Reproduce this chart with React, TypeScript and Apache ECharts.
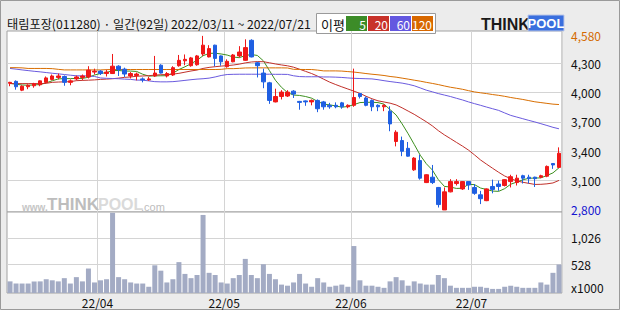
import React, { useEffect, useRef } from 'react';
import * as echarts from 'echarts';

// ---- data ----
const monthDays: [string, number[]][] = [
  ['22/03', [11, 14, 15, 16, 17, 18, 21, 22, 23, 24, 25, 28, 29, 30, 31]],
  ['22/04', [1, 4, 5, 6, 7, 8, 11, 12, 13, 14, 15, 18, 19, 20, 21, 22, 25, 26, 27, 28, 29]],
  ['22/05', [2, 3, 4, 6, 9, 10, 11, 12, 13, 16, 17, 18, 19, 20, 23, 24, 25, 26, 27, 30, 31]],
  ['22/06', [2, 3, 7, 8, 9, 10, 13, 14, 15, 16, 17, 20, 21, 22, 23, 24, 27, 28, 29, 30]],
  ['22/07', [1, 4, 5, 6, 7, 8, 11, 12, 13, 14, 15, 18, 19, 20, 21]],
];
const dates: string[] = [];
monthDays.forEach(([m, days]) => days.forEach((d) => dates.push(m + '/' + String(d).padStart(2, '0'))));

const opens = [
  4095, 4115, 4025, 4060, 4070, 4080, 4105, 4135, 4155, 4165,
  4105, 4140, 4155, 4160, 4210, 4220, 4195, 4195, 4270, 4240,
  4170, 4175, 4140, 4130, 4170, 4280, 4170, 4180, 4275, 4325,
  4275, 4285, 4395, 4365, 4485, 4375, 4265, 4315, 4375, 4330,
  4535, 4305, 4200, 4100, 3905, 3960, 3965, 4015, 3910, 3915,
  3905, 3920, 3905, 3870, 3870, 3895, 3855, 3870, 3990, 3945,
  3920, 3870, 3855, 3810, 3500, 3510, 3430, 3210, 3305, 3080,
  3135, 3030, 2800, 2985, 3070, 3015, 3090, 3030, 2955, 2895,
  3040, 3065, 3050, 3090, 3080, 3150, 3135, 3135, 3135, 3145,
  3275, 3235,
];
const highs = [
  4110, 4125, 4075, 4085, 4100, 4125, 4165, 4185, 4195, 4175,
  4135, 4175, 4185, 4270, 4245, 4230, 4235, 4395, 4280, 4255,
  4210, 4205, 4155, 4160, 4375, 4290, 4210, 4270, 4385, 4390,
  4365, 4385, 4580, 4485, 4490, 4380, 4340, 4395, 4475, 4545,
  4545, 4315, 4245, 4110, 4040, 4025, 4025, 4025, 3915, 3920,
  3930, 3930, 3915, 3895, 3900, 3905, 3880, 4245, 3995, 3960,
  3930, 3880, 3880, 3860, 3615, 3550, 3495, 3340, 3365, 3165,
  3260, 3035, 3030, 3115, 3115, 3095, 3090, 3065, 2995, 3020,
  3110, 3100, 3115, 3160, 3160, 3160, 3160, 3140, 3160, 3255,
  3280, 3440,
];
const lows = [
  4065, 4030, 4015, 4035, 4050, 4065, 4095, 4125, 4135, 4070,
  4075, 4125, 4125, 4145, 4185, 4180, 4165, 4190, 4170, 4160,
  4145, 4125, 4105, 4120, 4160, 4195, 4155, 4170, 4265, 4280,
  4265, 4275, 4375, 4360, 4270, 4275, 4255, 4310, 4360, 4325,
  4360, 4155, 4045, 3885, 3900, 3930, 3955, 3945, 3825, 3865,
  3870, 3800, 3825, 3835, 3840, 3835, 3840, 3855, 3940, 3860,
  3810, 3810, 3810, 3605, 3450, 3350, 3345, 3200, 3110, 3075,
  3065, 2825, 2800, 2980, 3050, 3005, 3005, 2955, 2860, 2890,
  2970, 2995, 3040, 3030, 3050, 3070, 3070, 3035, 3125, 3135,
  3220, 3230,
];
const closes = [
  4105, 4060, 4065, 4075, 4090, 4120, 4150, 4170, 4170, 4105,
  4120, 4160, 4170, 4230, 4220, 4195, 4210, 4270, 4235, 4190,
  4195, 4190, 4130, 4140, 4200, 4200, 4195, 4255, 4330, 4340,
  4355, 4375, 4485, 4450, 4350, 4315, 4320, 4385, 4415, 4460,
  4365, 4275, 4110, 3920, 3960, 4005, 4005, 3985, 3900, 3905,
  3920, 3835, 3855, 3855, 3855, 3855, 3870, 3950, 3960, 3870,
  3855, 3855, 3870, 3680, 3595, 3400, 3350, 3330, 3125, 3160,
  3080, 2855, 2985, 3090, 3090, 3090, 3055, 2970, 2915, 3015,
  3010, 3040, 3110, 3140, 3125, 3125, 3120, 3120, 3150, 3245,
  3260, 3380,
];
const ma5 = [
  4095, 4085, 4078, 4075, 4079, 4082, 4100, 4121, 4140, 4143,
  4143, 4145, 4145, 4157, 4180, 4195, 4205, 4225, 4226, 4220,
  4220, 4216, 4188, 4169, 4171, 4172, 4173, 4198, 4236, 4264,
  4295, 4331, 4377, 4401, 4403, 4395, 4384, 4364, 4357, 4379,
  4389, 4380, 4325, 4226, 4126, 4054, 4000, 3975, 3971, 3960,
  3943, 3909, 3883, 3874, 3864, 3851, 3858, 3877, 3898, 3901,
  3901, 3898, 3882, 3826, 3771, 3680, 3579, 3471, 3360, 3273,
  3209, 3110, 3041, 3034, 3020, 3022, 3062, 3059, 3024, 3009,
  2993, 2990, 3018, 3063, 3085, 3108, 3124, 3126, 3128, 3152,
  3179, 3231,
];
const ma20 = [
  4092, 4092, 4092, 4092, 4092, 4092, 4095, 4105, 4108, 4110,
  4112, 4122, 4125, 4127, 4130, 4135, 4138, 4142, 4148, 4156,
  4160, 4167, 4170, 4173, 4179, 4183, 4185, 4189, 4197, 4209,
  4221, 4231, 4247, 4258, 4265, 4271, 4276, 4282, 4291, 4304,
  4313, 4317, 4316, 4305, 4293, 4283, 4274, 4260, 4239, 4217,
  4195, 4168, 4137, 4107, 4082, 4059, 4037, 4015, 3992, 3963,
  3937, 3916, 3904, 3892, 3874, 3844, 3811, 3778, 3740, 3702,
  3660, 3611, 3568, 3530, 3491, 3453, 3412, 3363, 3311, 3268,
  3226, 3185, 3147, 3120, 3097, 3083, 3072, 3061, 3062, 3067,
  3076, 3102,
];
const ma60 = [
  4247, 4240, 4232, 4225, 4218, 4212, 4205, 4198, 4192, 4185,
  4178, 4172, 4171, 4170, 4165, 4150, 4146, 4144, 4142, 4138,
  4135, 4128, 4127, 4120, 4112, 4110, 4110, 4112, 4118, 4125,
  4132, 4138, 4142, 4148, 4160, 4175, 4185, 4187, 4188, 4188,
  4188, 4188, 4188, 4188, 4187, 4187, 4186, 4172, 4164, 4162,
  4162, 4162, 4160, 4160, 4158, 4155, 4150, 4146, 4144, 4142,
  4140, 4132, 4122, 4113, 4105, 4097, 4085, 4070, 4048, 4025,
  4008, 3990, 3975, 3960, 3942, 3925, 3905, 3887, 3870, 3852,
  3835, 3818, 3792, 3767, 3750, 3733, 3716, 3700, 3682, 3664,
  3645, 3630,
];
const ma120 = [
  4255, 4255, 4253, 4247, 4247, 4247, 4247, 4245, 4238, 4232,
  4232, 4232, 4232, 4232, 4232, 4232, 4235, 4236, 4236, 4236,
  4236, 4236, 4236, 4236, 4236, 4236, 4236, 4236, 4236, 4236,
  4236, 4236, 4236, 4236, 4236, 4238, 4245, 4245, 4248, 4252,
  4253, 4253, 4253, 4253, 4253, 4253, 4252, 4238, 4237, 4236,
  4236, 4230, 4222, 4222, 4222, 4220, 4215, 4210, 4203, 4195,
  4188, 4182, 4175, 4165, 4158, 4148, 4138, 4127, 4117, 4105,
  4094, 4082, 4068, 4055, 4045, 4034, 4020, 4007, 3998, 3990,
  3980, 3972, 3962, 3950, 3940, 3930, 3918, 3906, 3898, 3890,
  3882, 3878,
];
const volumes = [
  216, 176, 176, 176, 216, 216, 256, 236, 216, 276,
  176, 295, 216, 455, 196, 236, 256, 1491, 295, 256,
  196, 176, 176, 116, 515, 415, 196, 256, 574, 355,
  276, 335, 1451, 375, 335, 196, 176, 276, 335, 634,
  335, 276, 535, 355, 256, 156, 136, 196, 355, 176,
  116, 276, 196, 116, 136, 156, 116, 873, 236, 136,
  136, 116, 96, 216, 295, 236, 136, 216, 176, 156,
  156, 335, 276, 136, 96, 96, 96, 116, 116, 96,
  76, 76, 116, 136, 116, 96, 96, 96, 196, 156,
  375, 530,
];
const priceTicks = [3100, 3400, 3700, 4000, 4300];
const volumeTicks = [528, 1026];
const maPeriods = [5, 20, 60, 120];

const UP = '#f01818';
const DOWN = '#1f5fe2';
const MA_COLORS = ['#3d8f1f', '#c0302a', '#6a5ade', '#d86e00'];
const LEGEND_COLORS = ['#3c8c28', '#c8322a', '#6458e0', '#d86800'];
const FONT = '"Noto Sans CJK KR", "Noto Sans", sans-serif';
const GRID_LINE = '#d4d4d4';

export default function App() {
  const ref = useRef<HTMLDivElement>(null);
  useEffect(() => {
    if (!ref.current) return;
    document.body.style.margin = '0';
    const chart = echarts.init(ref.current, undefined, { renderer: 'svg' });
    const priceHigh = Math.max(...highs);
    const priceLow = Math.min(...lows);
    const firstOfMonth = new Set<number>();
    dates.forEach((d, i) => {
      if (i > 0 && d.slice(0, 5) !== dates[i - 1].slice(0, 5)) firstOfMonth.add(i);
    });
    const splitX = (idx: number) => firstOfMonth.has(idx);
    const plotLeft = 7;
    const plotRight = 58;
    const priceTop = 31;
    const priceBottom = 212;
    const volBottom = 293;

    const maSeries = [ma5, ma20, ma60, ma120].map((arr, k) => ({
      type: 'line',
      name: 'MA' + maPeriods[k],
      xAxisIndex: 0,
      yAxisIndex: 0,
      data: arr,
      symbol: 'none',
      silent: true,
      lineStyle: { color: MA_COLORS[k], width: 1 },
      z: 3,
    }));

    const legendX = [346, 368, 390, 412];
    const legendGraphics: any[] = [
      {
        type: 'rect',
        shape: { x: 316.5, y: 13.5, width: 119, height: 20 },
        style: { fill: '#fff', stroke: '#9a9a9a', lineWidth: 1 },
      },
      {
        type: 'text',
        x: 321,
        y: 24,
        style: { text: '이평', font: '13px ' + FONT, fill: '#111', verticalAlign: 'middle' },
      },
    ];
    maPeriods.forEach((p, k) => {
      legendGraphics.push({
        type: 'rect',
        shape: { x: legendX[k], y: 16, width: 21, height: 15 },
        style: { fill: LEGEND_COLORS[k] },
      });
      legendGraphics.push({
        type: 'text',
        x: legendX[k] + 20,
        y: 24,
        style: {
          text: String(p),
          font: '12px ' + FONT,
          fill: '#fff',
          align: 'right',
          verticalAlign: 'middle',
        },
      });
    });

    const option: any = {
      animation: false,
      backgroundColor: '#ececec',
      grid: [
        {
          left: plotLeft,
          right: plotRight,
          top: priceTop,
          height: priceBottom - priceTop,
          show: true,
          backgroundColor: '#fff',
          borderColor: '#a2a2a2',
          borderWidth: 1,
        },
        {
          left: plotLeft,
          right: plotRight,
          top: priceBottom,
          height: volBottom - priceBottom,
          show: true,
          backgroundColor: '#fff',
          borderColor: '#a2a2a2',
          borderWidth: 1,
        },
      ],
      xAxis: [
        {
          type: 'category',
          gridIndex: 0,
          data: dates,
          boundaryGap: true,
          axisLine: { show: false },
          axisTick: { show: false },
          axisLabel: { show: false },
          splitLine: { show: true, interval: splitX, lineStyle: { color: GRID_LINE, width: 1 } },
        },
        {
          type: 'category',
          gridIndex: 1,
          data: dates,
          boundaryGap: true,
          axisLine: { show: false },
          axisTick: { show: false },
          axisLabel: {
            show: true,
            interval: splitX,
            formatter: (v: string) => v.slice(0, 5),
            fontFamily: FONT,
            fontSize: 12,
            color: '#111',
            margin: 3,
            padding: [0, 6, 0, 0],
          },
          splitLine: { show: true, interval: splitX, lineStyle: { color: GRID_LINE, width: 1 } },
        },
      ],
      yAxis: [
        {
          type: 'value',
          gridIndex: 0,
          position: 'right',
          min: 2779,
          max: 4630,
          axisLine: { show: false },
          axisTick: { show: false, customValues: priceTicks },
          splitLine: { show: true, lineStyle: { color: GRID_LINE, width: 1 } },
          axisLabel: {
            customValues: [priceLow, ...priceTicks, priceHigh],
            margin: 9,
            fontFamily: FONT,
            fontSize: 12,
            color: '#111',
            formatter: (v: number) => {
              const s = v.toLocaleString('en-US');
              if (v === priceHigh) return '{hi|' + s + '}';
              if (v === priceLow) return '{lo|' + s + '}';
              return s;
            },
            rich: {
              hi: { color: '#d46a00', fontFamily: FONT, fontSize: 12 },
              lo: { color: '#1515d0', fontFamily: FONT, fontSize: 12 },
            },
          },
        },
        {
          type: 'value',
          gridIndex: 1,
          position: 'right',
          min: 0,
          max: 1506,
          axisLine: { show: false },
          axisTick: { show: false, customValues: volumeTicks },
          splitLine: { show: true, lineStyle: { color: GRID_LINE, width: 1 } },
          axisLabel: {
            customValues: volumeTicks,
            margin: 9,
            fontFamily: FONT,
            fontSize: 12,
            color: '#111',
          },
        },
      ],
      series: [
        {
          type: 'candlestick',
          xAxisIndex: 0,
          yAxisIndex: 0,
          data: dates.map((_, i) => [opens[i], closes[i], lows[i], highs[i]]),
          barWidth: 4,
          z: 4,
          itemStyle: {
            color: UP,
            color0: DOWN,
            borderColor: UP,
            borderColor0: DOWN,
            borderWidth: 1,
          },
        },
        ...maSeries,
        {
          type: 'bar',
          xAxisIndex: 1,
          yAxisIndex: 1,
          data: volumes,
          barWidth: 5,
          itemStyle: { color: '#a3abc4' },
          silent: true,
        },
      ],
      graphic: [
        {
          type: 'rect',
          shape: { x: 0.5, y: 0.5, width: 619, height: 309 },
          style: { fill: 'none', stroke: '#9a9a9a', lineWidth: 1 },
          silent: true,
        },
        {
          type: 'text',
          x: 7,
          y: 24,
          style: {
            text: '태림포장(011280) · 일간(92일) 2022/03/11 ~ 2022/07/21',
            font: '12.2px ' + FONT,
            fill: '#111',
            verticalAlign: 'middle',
          },
        },
        ...legendGraphics,
        {
          type: 'text',
          x: 481,
          y: 24,
          style: {
            text: 'THINK',
            font: 'bold 16px "Liberation Sans", sans-serif',
            fill: '#1a1a1a',
            verticalAlign: 'middle',
          },
        },
        {
          type: 'rect',
          shape: { x: 528, y: 15, width: 36, height: 16 },
          style: { fill: '#3a6fde', stroke: '#bcc8e8', lineWidth: 1 },
        },
        {
          type: 'text',
          x: 546,
          y: 23.5,
          style: {
            text: 'POOL',
            font: 'bold 13px "Liberation Sans", sans-serif',
            fill: '#fff',
            align: 'center',
            verticalAlign: 'middle',
          },
        },
        {
          type: 'text',
          x: 22,
          y: 207,
          z: 1,
          style: { text: 'www.', font: 'bold 10px "Liberation Sans", sans-serif', fill: '#c6c6c6', verticalAlign: 'middle' },
        },
        {
          type: 'text',
          x: 47,
          y: 204,
          z: 1,
          style: { text: 'THINK', font: 'bold 17px "Liberation Sans", sans-serif', fill: '#bdbdbd', verticalAlign: 'middle' },
        },
        {
          type: 'text',
          x: 98,
          y: 204,
          z: 1,
          style: { text: 'POOL', font: 'bold 16px "Liberation Sans", sans-serif', fill: '#dadada', verticalAlign: 'middle' },
        },
        {
          type: 'text',
          x: 141,
          y: 207,
          z: 1,
          style: { text: '.com', font: '11px "Liberation Sans", sans-serif', fill: '#bdbdbd', verticalAlign: 'middle' },
        },
        {
          type: 'text',
          x: 571,
          y: 287,
          style: { text: 'x1000', font: '12px ' + FONT, fill: '#111', verticalAlign: 'middle' },
        },
      ],
    };
    chart.setOption(option);
    return () => chart.dispose();
  }, []);
  return (
    <div style={{ position: 'fixed', left: 0, top: 0, width: 620, height: 310 }}>
      <div ref={ref} style={{ width: 620, height: 310 }} />
    </div>
  );
}
